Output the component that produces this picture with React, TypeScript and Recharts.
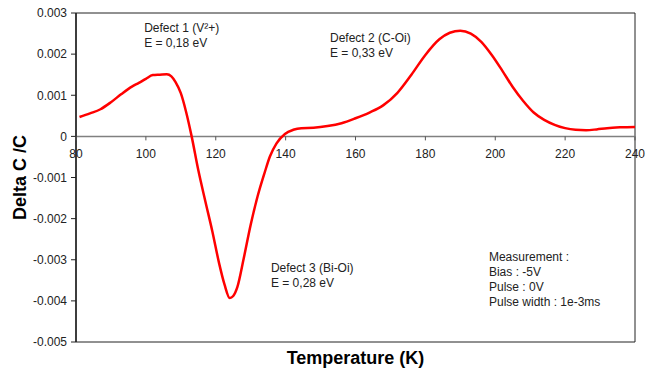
import React from "react";
import {
  LineChart,
  Line,
  XAxis,
  YAxis,
  ReferenceLine,
  ReferenceArea,
  ReferenceDot,
} from "recharts";

const temperature = [
  81, 84, 87, 90, 93, 96, 98, 100, 102, 104, 106, 107.3, 108.5, 110, 111.5, 113.1, 115, 117, 119, 121,
  122.5, 124, 125, 126.2, 128, 130, 132, 134, 135.5, 137.4, 139.8, 142.2, 144.5, 148, 152, 156, 160,
  164, 168, 172, 176, 180, 184, 187, 190, 193, 196, 199, 202, 205, 208, 211, 214, 217, 220, 223, 226,
  229, 232, 236, 240,
];

// Delta C / C, x 1e-3
const deltaC = [
  0.47, 0.56, 0.66, 0.83, 1.03, 1.21, 1.3, 1.4, 1.49, 1.5, 1.51, 1.46, 1.32, 1.05, 0.6, 0.0, -0.82,
  -1.57, -2.3, -3.1, -3.6, -3.93, -3.88, -3.66, -2.97, -2.15, -1.45, -0.88, -0.49, -0.17, 0.06, 0.16,
  0.2, 0.21, 0.25, 0.32, 0.44, 0.58, 0.76, 1.06, 1.5, 1.98, 2.36, 2.52, 2.57, 2.5, 2.3, 1.98, 1.6,
  1.2, 0.86, 0.58, 0.4, 0.28, 0.2, 0.16, 0.15, 0.17, 0.2, 0.22, 0.23,
];

const xTicks = [80, 100, 120, 140, 160, 180, 200, 220, 240];
const yTicks = [-0.005, -0.004, -0.003, -0.002, -0.001, 0, 0.001, 0.002, 0.003];

const annotations = [
  { t: 99.5, v: 0.00254, lines: ["Defect 1 (V²+)", "E = 0,18 eV"] },
  { t: 152.7, v: 0.0023, lines: ["Defect 2 (C-Oi)", "E = 0,33 eV"] },
  { t: 135.8, v: -0.00329, lines: ["Defect 3 (Bi-Oi)", "E = 0,28 eV"] },
  {
    t: 198.2,
    v: -0.00302,
    lines: ["Measurement :", "Bias : -5V", "Pulse : 0V", "Pulse width : 1e-3ms"],
  },
];

const data = temperature.map((t, i) => ({ t, v: deltaC[i] / 1000 }));

const FONT = "Arial, 'Liberation Sans', sans-serif";
const W = 651;
const H = 372;
const M = { top: 13, right: 16, bottom: 0, left: 0 };
const X_AXIS_H = 30;
const Y_MIN = -0.005;
const Y_MAX = 0.003;
const PLOT_H = H - M.top - M.bottom - X_AXIS_H;
const ZERO_Y = M.top + (PLOT_H * Y_MAX) / (Y_MAX - Y_MIN);

const XTick = (props: any) => {
  const { x, payload } = props;
  return (
    <g>
      <line x1={x} x2={x} y1={ZERO_Y} y2={ZERO_Y + 4} stroke="#555" />
      <text x={x} y={ZERO_Y + 22} textAnchor="middle" fontSize={12} fontFamily={FONT} fill="#222">
        {payload.value}
      </text>
    </g>
  );
};

const Note = (lines: string[]) => (props: any) => {
  const { cx, cy } = props;
  return (
    <text x={cx} y={cy} fontSize={12} fontFamily={FONT} fill="#222">
      {lines.map((s, i) => (
        <tspan key={i} x={cx} dy={i === 0 ? 0 : 15.3}>
          {s}
        </tspan>
      ))}
    </text>
  );
};

const XTitle = (props: any) => {
  const vb = props.viewBox;
  return (
    <text
      x={vb.x + vb.width / 2}
      y={vb.y + 22}
      textAnchor="middle"
      fontSize={18}
      fontWeight="bold"
      fontFamily={FONT}
      fill="#000"
    >
      Temperature (K)
    </text>
  );
};

const YTitle = (props: any) => {
  const vb = props.viewBox;
  const cy = vb.y + vb.height / 2;
  return (
    <text
      x={26}
      y={cy}
      transform={`rotate(-90 26 ${cy})`}
      textAnchor="middle"
      fontSize={18}
      fontWeight="bold"
      fontFamily={FONT}
      fill="#000"
    >
      Delta C /C
    </text>
  );
};

export default function App() {
  return (
    <div style={{ position: "absolute", left: 0, top: 0 }}>
      <LineChart width={W} height={H} data={data} margin={M}>
        <XAxis
          dataKey="t"
          type="number"
          domain={[80, 240]}
          ticks={xTicks}
          axisLine={false}
          tickLine={false}
          tick={<XTick />}
          height={X_AXIS_H}
          interval={0}
          label={{ content: <XTitle /> }}
        />
        <YAxis
          type="number"
          domain={[Y_MIN, Y_MAX]}
          ticks={yTicks}
          interval={0}
          width={76}
          tickSize={5}
          tickMargin={4}
          axisLine={{ stroke: "#222", strokeWidth: 1.5 }}
          tickLine={{ stroke: "#222" }}
          tick={{ fontSize: 12, fontFamily: FONT, fill: "#222" }}
          tickFormatter={(v: number) => (v === 0 ? "0" : v.toFixed(3))}
          label={{ content: <YTitle /> }}
        />
        <ReferenceLine y={0} stroke="#808080" strokeWidth={1.5} />
        <Line
          type="monotone"
          dataKey="v"
          stroke="#ff0000"
          strokeWidth={2.5}
          dot={false}
          isAnimationActive={false}
        />
        <ReferenceArea x1={80} x2={240} y1={Y_MIN} y2={Y_MAX} fill="none" stroke="#222" strokeWidth={1} />
        {annotations.map((a, i) => (
          <ReferenceDot key={i} x={a.t} y={a.v} r={0} shape={Note(a.lines)} />
        ))}
      </LineChart>
    </div>
  );
}
